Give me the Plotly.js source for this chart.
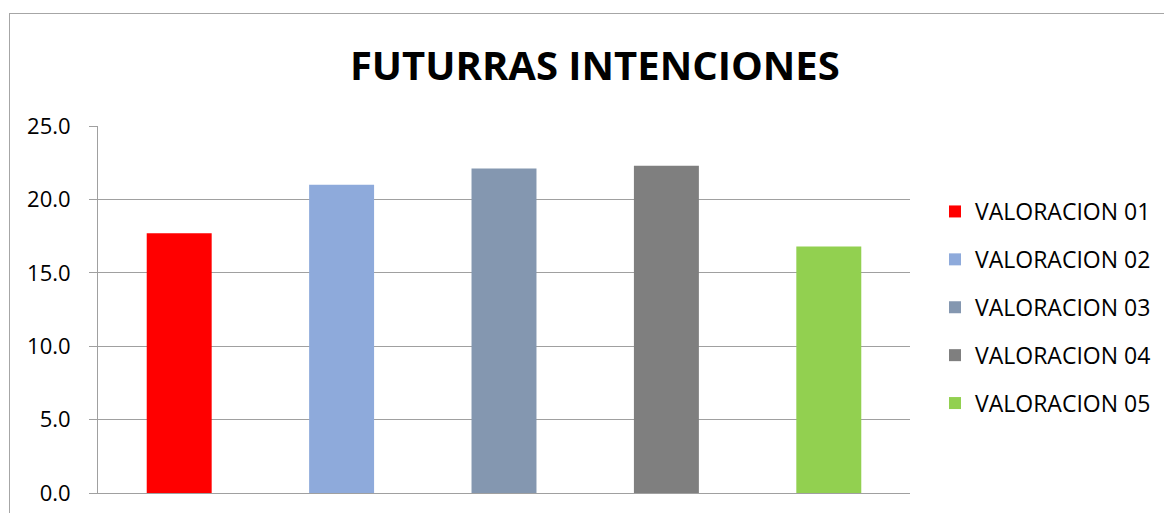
<!DOCTYPE html>
<html>
<head>
<meta charset="utf-8">
<script src="https://cdn.plot.ly/plotly-3.0.1.min.js"></script>
<style>
  html, body { margin: 0; padding: 0; background: #ffffff; overflow: hidden; }
  #frame { position: absolute; left: 9px; top: 13px; width: 1200px; height: 600px; border: 1px solid #a6a6a6; }
  #chart { position: absolute; left: 0; top: 0; width: 1164px; height: 513px; }
</style>
</head>
<body>
<div id="frame"></div>
<div id="chart"></div>
<script>
const categories = ['VALORACION 01', 'VALORACION 02', 'VALORACION 03', 'VALORACION 04', 'VALORACION 05'];
const values = [17.7, 21.0, 22.1, 22.3, 16.8];
const colors = ['#ff0000', '#8eaadb', '#8497b0', '#7f7f7f', '#92d050'];
const yTicks = [0, 5, 10, 15, 20, 25];
const chartTitle = 'FUTURRAS INTENCIONES';

const traces = categories.map((c, i) => ({
  type: 'bar',
  name: c,
  x: [c],
  y: [values[i]],
  marker: { color: colors[i] },
  width: 0.4,
  legendgroup: 'g' + i,
  hoverinfo: 'x+y'
}));

const layout = {
  width: 1164,
  height: 513,
  paper_bgcolor: 'rgba(0,0,0,0)',
  plot_bgcolor: 'rgba(0,0,0,0)',
  margin: { l: 98, r: 254, t: 126, b: 20 },
  barmode: 'overlay',
  font: { family: 'Open Sans, sans-serif', color: '#000000' },
  title: {
    text: chartTitle,
    font: { family: 'Open Sans, sans-serif', size: 40, color: '#000000', weight: 'bold' },
    xref: 'container', x: 0.511, xanchor: 'center',
    yref: 'container', y: 1 - 66 / 513, yanchor: 'middle'
  },
  xaxis: {
    type: 'category',
    categoryarray: categories,
    showticklabels: false,
    ticks: '',
    showgrid: false,
    showline: true,
    linecolor: '#a0a0a0',
    linewidth: 1,
    zeroline: false,
    fixedrange: true
  },
  yaxis: {
    range: [0, 25],
    tickvals: yTicks,
    ticktext: yTicks.map(v => v.toFixed(1)),
    ticks: 'outside',
    ticklen: 8,
    tickcolor: '#a0a0a0',
    ticklabelstandoff: 14,
    tickfont: { family: 'Open Sans, sans-serif', size: 22, color: '#000000' },
    showgrid: true,
    gridcolor: '#a0a0a0',
    gridwidth: 1,
    showline: true,
    linecolor: '#a0a0a0',
    linewidth: 1,
    zeroline: false,
    fixedrange: true
  },
  showlegend: true,
  legend: {
    xref: 'container', yref: 'container',
    x: 935 / 1164, xanchor: 'left',
    y: 1 - 190 / 513, yanchor: 'top',
    font: { family: 'Open Sans, sans-serif', size: 23, color: '#000000' },
    tracegroupgap: 15,
    itemwidth: 30,
    bgcolor: 'rgba(0,0,0,0)'
  }
};

Plotly.newPlot('chart', traces, layout, { displayModeBar: false, staticPlot: true });
</script>
</body>
</html>
